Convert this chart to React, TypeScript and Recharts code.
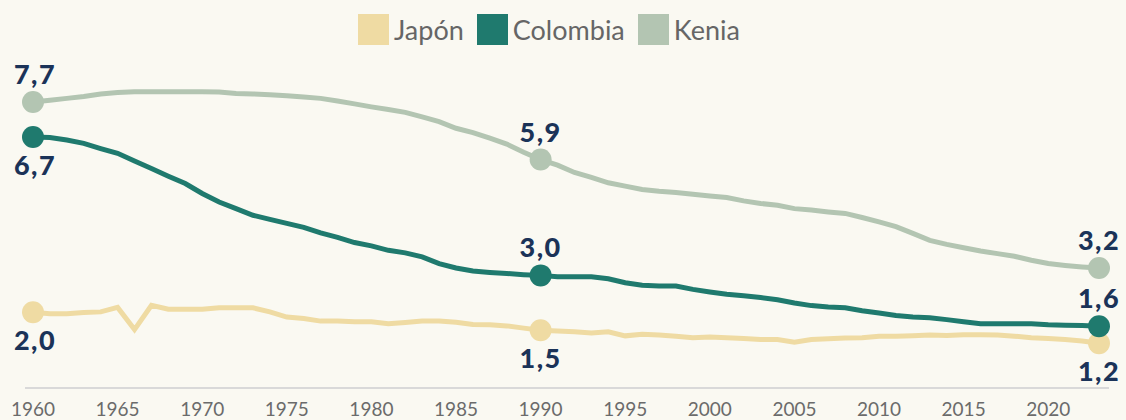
import { LineChart, Line, XAxis, YAxis, Legend } from "recharts";

const years = Array.from({ length: 64 }, (_, i) => 1960 + i);

const japan = [
  2.0, 1.96, 1.96, 1.99, 2.01, 2.13, 1.53, 2.19, 2.08, 2.08,
  2.08, 2.12, 2.12, 2.12, 2.01, 1.87, 1.83, 1.76, 1.76, 1.74,
  1.74, 1.69, 1.72, 1.76, 1.76, 1.73, 1.67, 1.66, 1.63, 1.57,
  1.51, 1.49, 1.47, 1.44, 1.47, 1.36, 1.4, 1.38, 1.35, 1.31,
  1.33, 1.31, 1.29, 1.26, 1.26, 1.19, 1.26, 1.28, 1.3, 1.31,
  1.35, 1.35, 1.36, 1.38, 1.37, 1.39, 1.39, 1.38, 1.35, 1.31,
  1.29, 1.26, 1.22, 1.16,
];

const colombia = [
  6.75, 6.74, 6.67, 6.58, 6.44, 6.31, 6.1, 5.9, 5.69, 5.49,
  5.22, 4.99, 4.81, 4.63, 4.52, 4.41, 4.3, 4.15, 4.03, 3.89,
  3.8, 3.68, 3.61, 3.5, 3.32, 3.2, 3.12, 3.08, 3.05, 3.02,
  3.0, 2.96, 2.96, 2.96, 2.91, 2.8, 2.73, 2.71, 2.71, 2.62,
  2.55, 2.49, 2.45, 2.4, 2.34, 2.25, 2.18, 2.14, 2.12, 2.04,
  1.98, 1.91, 1.87, 1.85, 1.8, 1.74, 1.69, 1.69, 1.69, 1.69,
  1.66, 1.65, 1.64, 1.62,
];

const kenya = [
  7.7, 7.75, 7.8, 7.85, 7.92, 7.96, 7.98, 7.98, 7.98, 7.98,
  7.98, 7.97, 7.93, 7.92, 7.9, 7.87, 7.84, 7.8, 7.73, 7.65,
  7.57, 7.5, 7.42, 7.3, 7.17, 6.99, 6.87, 6.72, 6.56, 6.34,
  6.14, 5.99, 5.79, 5.66, 5.51, 5.42, 5.33, 5.28, 5.25, 5.2,
  5.15, 5.11, 5.02, 4.95, 4.9, 4.81, 4.77, 4.72, 4.68, 4.57,
  4.45, 4.32, 4.14, 3.95, 3.84, 3.75, 3.66, 3.59, 3.52, 3.41,
  3.32, 3.27, 3.23, 3.2,
];

const xTicks = [1960, 1965, 1970, 1975, 1980, 1985, 1990, 1995, 2000, 2005, 2010, 2015, 2020];

// years with a dot + value label, and the label text per series
const labelYears = [1960, 1990, 2023];
const japanLabels = ["2,0", "1,5", "1,2"];
const colombiaLabels = ["6,7", "3,0", "1,6"];
const kenyaLabels = ["7,7", "5,9", "3,2"];

const seriesNames = ["Japón", "Colombia", "Kenia"];
const seriesColors = ["#efdba3", "#1f7a6e", "#b3c5b2"];

const data = years.map((year, i) => ({
  year,
  japan: japan[i],
  colombia: colombia[i],
  kenya: kenya[i],
}));

const BG = "#faf9f2";
const LABEL = "#1b3358";

function makeDot(color: string, labels: string[], places: ("up" | "down")[]) {
  return (props: any) => {
    const { cx, cy, payload, index } = props;
    const k = labelYears.indexOf(payload.year);
    if (k < 0) return <g key={`d-${index}`} />;
    const ty = places[k] === "up" ? cy - 18 : cy + 38;
    return (
      <g key={`d-${index}`}>
        <circle cx={cx} cy={cy} r={11} fill={color} />
        <text
          x={cx + (k === 0 ? 2 : 0)}
          y={ty}
          textAnchor="middle"
          fill={LABEL}
          fontFamily="Lato"
          fontWeight={900}
          fontSize={27}
          letterSpacing={1.5}
        >
          {labels[k]}
        </text>
      </g>
    );
  };
}

// own legend so the order stays Japón, Colombia, Kenia
const renderLegend = () => (
  <div style={{ display: "flex", alignItems: "center", height: 31, fontFamily: "Lato", fontSize: 27, color: "#666" }}>
    {seriesNames.map((name, i) => (
      <div key={name} style={{ display: "flex", alignItems: "center", marginRight: 13 }}>
        <span style={{ width: 31, height: 31, background: seriesColors[i], marginRight: 5, display: "inline-block" }} />
        <span>{name}</span>
      </div>
    ))}
  </div>
);

export default function App() {
  return (
    <div style={{ position: "absolute", top: 0, left: 0, width: 1126, height: 420, background: BG }}>
      <LineChart width={1126} height={420} data={data} margin={{ top: 60, right: 17, left: 25, bottom: 2 }}>
        <Legend verticalAlign="top" content={renderLegend} wrapperStyle={{ left: 358, top: 14, width: "auto" }} />
        <XAxis
          dataKey="year"
          type="number"
          domain={[1960, 2023]}
          ticks={xTicks}
          padding={{ left: 8, right: 10 }}
          axisLine={{ stroke: "#d9d9d9", strokeWidth: 2 }}
          tickLine={false}
          tickMargin={9}
          tick={{ fill: "#6b6b6b", fontSize: 19, fontFamily: "Lato" }}
        />
        <YAxis hide domain={[0, 8]} padding={{ top: 0, bottom: 2 }} />
        <Line
          dataKey="japan"
          name={seriesNames[0]}
          stroke={seriesColors[0]}
          strokeWidth={5}
          type="linear"
          dot={makeDot(seriesColors[0], japanLabels, ["down", "down", "down"])}
          activeDot={false}
          isAnimationActive={false}
        />
        <Line
          dataKey="colombia"
          name={seriesNames[1]}
          stroke={seriesColors[1]}
          strokeWidth={5}
          type="linear"
          dot={makeDot(seriesColors[1], colombiaLabels, ["down", "up", "up"])}
          activeDot={false}
          isAnimationActive={false}
        />
        <Line
          dataKey="kenya"
          name={seriesNames[2]}
          stroke={seriesColors[2]}
          strokeWidth={5}
          type="linear"
          dot={makeDot(seriesColors[2], kenyaLabels, ["up", "up", "up"])}
          activeDot={false}
          isAnimationActive={false}
        />
      </LineChart>
    </div>
  );
}
